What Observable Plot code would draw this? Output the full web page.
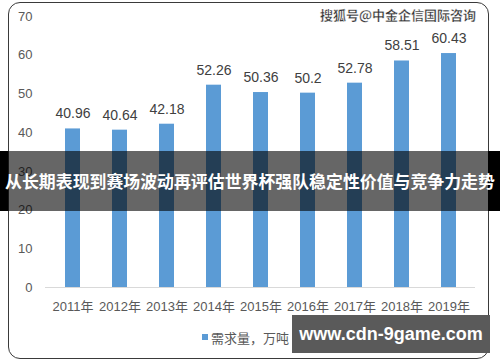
<!DOCTYPE html>
<html>
<head>
<meta charset="utf-8">
<script src="https://cdn.jsdelivr.net/npm/d3@7"></script>
<script src="https://cdn.jsdelivr.net/npm/@observablehq/plot@0.6"></script>
<style>
  html, body { margin: 0; padding: 0; background: #fff; }
  #wrap { position: relative; width: 500px; height: 362px; overflow: hidden; font-family: "Liberation Sans", "Noto Sans CJK SC", sans-serif; }
  #frame { position: absolute; left: 8px; top: 2px; width: 479px; height: 355px; border: 1.5px solid #3a3a3a; border-radius: 12px; pointer-events: none; }
  #chart { position: absolute; left: 0; top: 0; }
  .abs { position: absolute; }
</style>
</head>
<body>
<div id="wrap">
  <div id="chart"></div>
  <div id="frame"></div>
  <div class="abs" id="wm1" style="left:320px; top:5px; font-family:'Noto Sans CJK SC'; font-weight:700; font-size:13px; color:#333; -webkit-text-stroke:0.3px #fff; white-space:nowrap;"></div>
  <div class="abs" style="left:202px; top:334px; width:6px; height:6px; background:#5b9bd5;"></div>
  <div class="abs" id="legend" style="left:211px; top:328px; font-family:'Noto Sans CJK SC'; font-size:13px; color:#595959; white-space:nowrap;"></div>
  <div class="abs" style="left:0; top:151px; width:500px; height:60px;">
    <div class="abs" style="left:0; top:0; width:8px; height:60px; background:#000;"></div>
    <div class="abs" style="left:8px; top:0; width:480px; height:60px; background:rgba(0,0,0,0.6);"></div>
    <div class="abs" style="left:488px; top:0; width:12px; height:60px; background:#000;"></div>
    <div class="abs" id="banner" style="left:0; top:0; width:500px; height:60px; line-height:60px; text-align:center; color:#fff; font-family:'Noto Sans CJK SC'; font-weight:700; font-size:16.9px; white-space:nowrap;"></div>
  </div>
  <div class="abs" style="left:292px; top:315px; width:198px; height:38px; background:#5a5a5a;">
    <div id="wm2" style="width:198px; height:38px; line-height:38px; text-align:center; color:#fff; font-family:'Liberation Sans'; font-weight:700; font-size:18px; white-space:nowrap;"></div>
  </div>
</div>
<script>
const years = ["2011年","2012年","2013年","2014年","2015年","2016年","2017年","2018年","2019年"];
const values = [40.96, 40.64, 42.18, 52.26, 50.36, 50.2, 52.78, 58.51, 60.43];
const yTicks = [0, 10, 20, 30, 40, 50, 60, 70];
const legendText = "需求量，万吨";
const bannerText = "从长期表现到赛场波动再评估世界杯强队稳定性价值与竞争力走势";
const watermarkTop = "搜狐号@中金企信国际咨询";
const watermarkBottom = "www.cdn-9game.com";

const data = years.map((year, i) => ({year, value: values[i]}));

const plot = Plot.plot({
  width: 500,
  height: 362,
  marginTop: 16,
  marginBottom: 75,
  marginLeft: 45,
  marginRight: 25,
  style: {fontFamily: "'Liberation Sans', 'Noto Sans CJK SC', sans-serif", background: "transparent"},
  x: {domain: years, paddingInner: 0.69, paddingOuter: 0.345, label: null},
  y: {domain: [0, 70], ticks: yTicks, label: null},
  marks: [
    Plot.barY(data, {x: "year", y: "value", fill: "#5b9bd5"}),
    Plot.ruleY([0], {stroke: "#d9d9d9", strokeWidth: 1}),
    Plot.text(data, {x: "year", y: "value", text: d => String(d.value), dy: -15, fontSize: 14, fill: "#404040", lineAnchor: "middle"}),
    Plot.axisY({ticks: yTicks, tickSize: 0, tickPadding: 13, fontSize: 13, color: "#595959", label: null}),
    Plot.axisX({tickSize: 0, tickPadding: 14, fontSize: 13, color: "#595959", label: null})
  ]
});
document.getElementById("chart").appendChild(plot);
document.getElementById("legend").textContent = legendText;
document.getElementById("banner").textContent = bannerText;
document.getElementById("wm1").textContent = watermarkTop;
document.getElementById("wm2").textContent = watermarkBottom;
</script>
</body>
</html>
